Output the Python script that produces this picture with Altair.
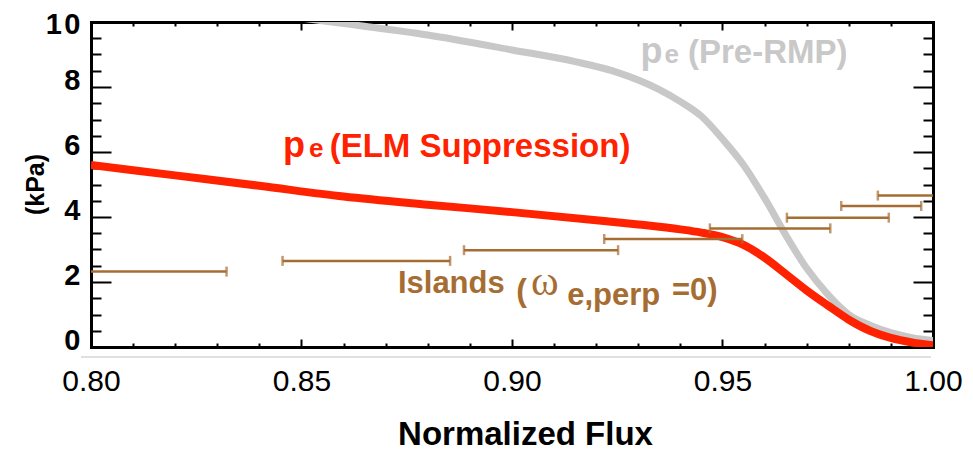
import altair as alt
import pandas as pd

# ---------------- data ----------------
# Electron pressure, ELM suppression (red)
elm_flux = [0.80, 0.82, 0.84, 0.86, 0.88, 0.90, 0.92, 0.93, 0.94, 0.945, 0.95,
            0.955, 0.96, 0.965, 0.97, 0.975, 0.98, 0.985, 0.99, 0.995, 1.00]
elm_pe = [5.60, 5.28, 4.96, 4.63, 4.38, 4.15, 3.90, 3.77, 3.62, 3.52, 3.38,
          3.14, 2.75, 2.25, 1.74, 1.28, 0.84, 0.50, 0.28, 0.14, 0.05]

# Electron pressure, pre-RMP (grey)
pre_flux = [0.85, 0.86, 0.88, 0.90, 0.915, 0.925, 0.935, 0.94, 0.945, 0.95,
            0.955, 0.96, 0.965, 0.97, 0.975, 0.98, 0.985, 0.99, 0.995, 1.00]
pre_pe = [10.12, 9.95, 9.60, 9.14, 8.78, 8.45, 7.92, 7.55, 7.10, 6.40,
          5.60, 4.58, 3.45, 2.42, 1.62, 1.00, 0.67, 0.44, 0.29, 0.20]

# Island locations (omega_e,perp = 0): horizontal error bars
isl_lo = [0.79, 0.8455, 0.8886, 0.9219, 0.9470, 0.9653, 0.9782, 0.9869]
isl_hi = [0.8322, 0.8853, 0.9252, 0.9547, 0.9756, 0.9895, 0.9972, 1.01]
isl_pe = [2.32, 2.65, 2.98, 3.32, 3.65, 3.98, 4.34, 4.66]

x_tick_values = [round(0.80 + 0.01 * i, 2) for i in range(21)]
y_tick_values = [0.5 * i for i in range(21)]

# ---------------- style ----------------
FONT = "Liberation Sans, Arial, Helvetica, sans-serif"
SERIF = "Liberation Serif, DejaVu Serif, serif"
RED = "#ff2200"
GREY = "#c8c8c8"
BROWN = "#a66d32"

W, H = 842, 325

xscale = alt.Scale(domain=[0.80, 1.00], nice=False, zero=False)
yscale = alt.Scale(domain=[0, 10], nice=False, zero=False)

x_major = "abs(datum.value*20 - round(datum.value*20)) < 0.001"
y_major = "abs(datum.value/2 - round(datum.value/2)) < 0.001"

axis_common = dict(domainColor="black", domainWidth=3, domainCap="square",
                   tickColor="black", tickWidth=2, grid=False)

x_bottom = alt.Axis(
    orient="bottom", values=x_tick_values,
    tickSize=alt.ExprRef(expr=f"{x_major} ? -8 : -4"),
    labelExpr=f"{x_major} ? format(datum.value, '.2f') : ''",
    labelFont=FONT, labelFontSize=30, labelColor="black",
    labelBaseline="alphabetic", labelPadding=51,
    labelFlush=False, labelOverlap=False,
    title="Normalized Flux", titleFont=FONT, titleFontSize=33,
    titleFontWeight="bold", titleColor="black",
    titleX=434, titleY=97, titleAlign="center", titleBaseline="alphabetic",
    **axis_common,
)
y_left = alt.Axis(
    orient="left", values=y_tick_values,
    tickSize=alt.ExprRef(expr=f"{y_major} ? -20 : -10"),
    labelExpr=f"{y_major} ? (datum.value == 10 ? '1\u200a0' : format(datum.value, 'd')) : ''",
    labelFont=FONT, labelFontSize=29, labelFontWeight="bold", labelColor="black",
    labelAlign="right", labelBaseline="middle", labelPadding=31,
    labelOffset=alt.ExprRef(expr="datum.value == 10 ? 2 : -7"),
    labelFlush=False, labelOverlap=False,
    title="(kPa)", titleFont=FONT, titleFontSize=25, titleFontWeight="bold",
    titleColor="black", titleAngle=270, titleX=-48, titleY=162,
    titleAlign="center", titleBaseline="alphabetic",
    **axis_common,
)
x_top = alt.Axis(
    orient="top", values=x_tick_values,
    tickSize=alt.ExprRef(expr=f"{x_major} ? -8 : -4"),
    labels=False, title=None, **axis_common,
)
y_right = alt.Axis(
    orient="right", values=y_tick_values,
    tickSize=alt.ExprRef(expr=f"{y_major} ? -20 : -10"),
    labels=False, title=None, **axis_common,
)

pre_df = pd.DataFrame({"flux": pre_flux, "pe": pre_pe})
elm_df = pd.DataFrame({"flux": elm_flux, "pe": elm_pe})
isl_df = pd.DataFrame({"lo": isl_lo, "hi": isl_hi, "pe": isl_pe})

pre_line = alt.Chart(pre_df).mark_line(
    color=GREY, strokeWidth=7, interpolate="monotone", clip=True
).encode(
    x=alt.X("flux:Q", scale=xscale, axis=x_bottom),
    y=alt.Y("pe:Q", scale=yscale, axis=y_left),
)

elm_line = alt.Chart(elm_df).mark_line(
    color=RED, strokeWidth=8, interpolate="monotone", clip=True
).encode(
    x=alt.X("flux:Q", scale=xscale, axis=x_top),
    y=alt.Y("pe:Q", scale=yscale, axis=y_right),
)

isl_rule = alt.Chart(isl_df).mark_rule(color=BROWN, strokeWidth=2.5, clip=True).encode(
    x=alt.X("lo:Q", scale=xscale, axis=None),
    x2="hi:Q",
    y=alt.Y("pe:Q", scale=yscale, axis=None),
)
cap_lo = alt.Chart(isl_df).mark_tick(
    color=BROWN, orient="vertical", size=10, thickness=2.5, clip=True
).encode(
    x=alt.X("lo:Q", scale=xscale, axis=None),
    y=alt.Y("pe:Q", scale=yscale, axis=None),
)
cap_hi = alt.Chart(isl_df).mark_tick(
    color=BROWN, orient="vertical", size=10, thickness=2.5, clip=True
).encode(
    x=alt.X("hi:Q", scale=xscale, axis=None),
    y=alt.Y("pe:Q", scale=yscale, axis=None),
)

base_rule = alt.Chart(alt.Data(values=[{}])).mark_rule(
    color="#d6d6d6", strokeWidth=1.5
).encode(x=alt.value(-10), x2=alt.value(W - 2), y=alt.value(H + 10))


def label(text, x, y, size, color, weight="bold", font=FONT):
    return alt.Chart(alt.Data(values=[{}])).mark_text(
        text=text, align="left", baseline="alphabetic", font=font,
        fontSize=size, fontWeight=weight, color=color,
    ).encode(
        x=alt.XDatum(x, type="quantitative", scale=xscale, axis=None),
        y=alt.YDatum(y, type="quantitative", scale=yscale, axis=None),
    )


texts = [
    label("p", 0.8456, 5.846, 36, RED),
    label("e", 0.8518, 5.846, 26, RED),
    label("(ELM Suppression)", 0.8567, 5.846, 33, RED),
    label("p", 0.9305, 8.738, 36, GREY),
    label("e", 0.9362, 8.738, 26, GREY),
    label("(Pre-RMP)", 0.9418, 8.738, 33, GREY),
    label("Islands", 0.8729, 1.662, 31, BROWN),
    label("(", 0.9010, 1.415, 32, BROWN),
    label("\u03c9", 0.9045, 1.600, 42, BROWN, weight="normal", font=SERIF),
    label("e,perp", 0.9131, 1.292, 31, BROWN),
    label("=0)", 0.9380, 1.446, 31, BROWN),
]

chart = alt.layer(
    pre_line, elm_line, isl_rule, cap_lo, cap_hi, base_rule, *texts
).resolve_axis(
    x="independent", y="independent"
).properties(
    width=W, height=H,
    padding={"left": 91, "top": 22, "right": 40, "bottom": 105},
    autosize=alt.AutoSizeParams(type="none"),
    background="white",
).configure_view(stroke=None)

chart.save("out.html", embed_options={"renderer": "svg", "actions": False})
